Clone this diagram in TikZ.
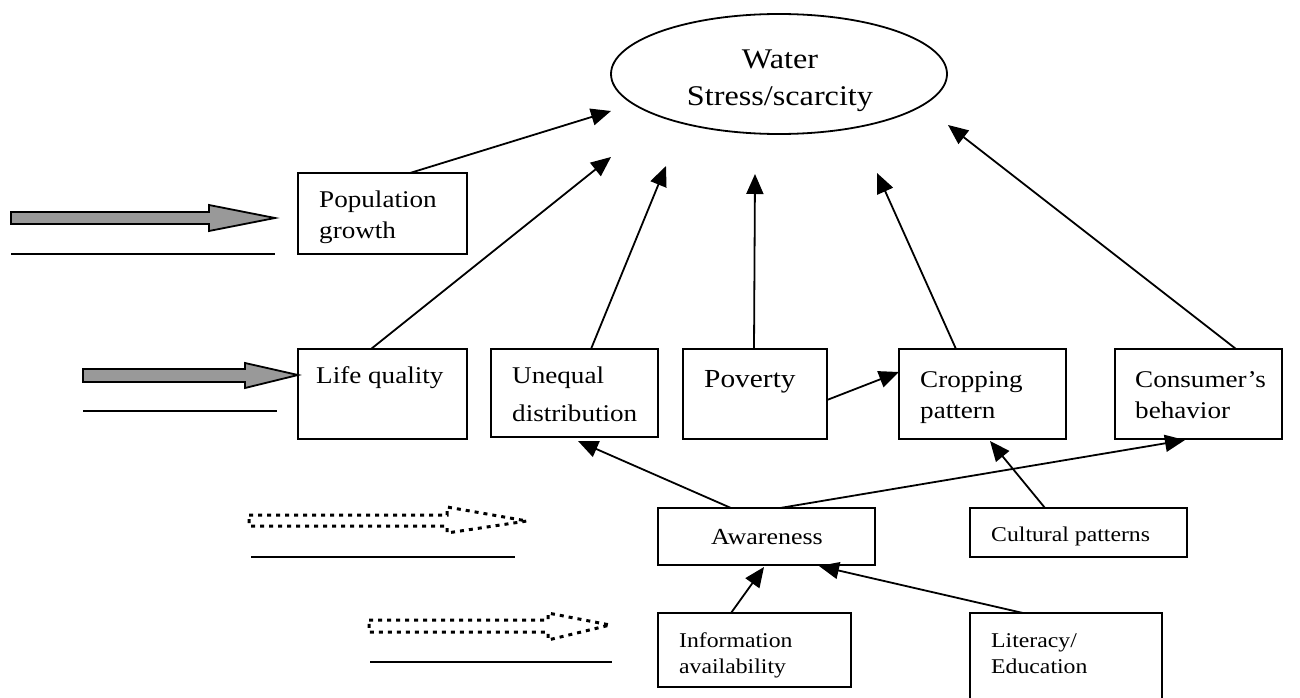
\documentclass[tikz,border=0pt]{standalone}
\usepackage{fontspec}
\setmainfont{Liberation Serif}[FakeStretch=1.13]
\usetikzlibrary{arrows.meta,shapes.geometric}
\definecolor{arrgray}{HTML}{999999}
\tikzset{
  box/.style={draw, line width=2pt, inner sep=0pt, outer sep=0pt},
  lbl/.style={anchor=base west, inner sep=0pt, align=left},
  big/.style={font=\fontsize{24}{31}\selectfont},
  mid/.style={font=\fontsize{23}{30}\selectfont},
  small/.style={font=\fontsize{21}{26}\selectfont},
  conn/.style={-{Triangle[length=20pt,width=17pt]}, line width=1.8pt},
  blockarrow/.style={draw, line width=1.8pt, fill=arrgray, line join=miter},
  dotarrow/.style={draw, line width=3pt, dash pattern=on 4pt off 5pt},
  rule/.style={line width=1.8pt}
}
\begin{document}
\begin{tikzpicture}[x=1pt,y=-1pt]
\useasboundingbox (0,0) rectangle (1300,698);

% central ellipse
\node[ellipse, draw, line width=1.8pt, minimum width=336pt, minimum height=120pt, inner sep=0pt] (ws) at (779,74) {};
\node[anchor=base, align=center, inner sep=0pt, font=\fontsize{28.5}{37}\selectfont] (wst) at (780,106) {Water\\Stress/scarcity};

% boxes
\node[box, minimum width=169pt, minimum height=81pt] (pg) at (382.5,213.5) {};
\node[lbl, big] (pgt) at (319,238) {Population\\growth};
\node[box, minimum width=169pt, minimum height=90pt] (lq) at (382.5,394) {};
\node[lbl, big] (lqt) at (316,383) {Life quality};
\node[box, minimum width=167pt, minimum height=88pt] (ud) at (574.5,393) {};
\node[lbl, font=\fontsize{24}{38}\selectfont] (udt) at (512,421) {Unequal\\distribution};
\node[box, minimum width=144pt, minimum height=90pt] (pv) at (755,394) {};
\node[lbl, font=\fontsize{26}{31}\selectfont] (pvt) at (704,387) {Poverty};
\node[box, minimum width=167pt, minimum height=90pt] (cp) at (982.5,394) {};
\node[lbl, big] (cpt) at (920,418) {Cropping\\pattern};
\node[box, minimum width=167pt, minimum height=90pt] (cb) at (1198.5,394) {};
\node[lbl, big] (cbt) at (1135,418) {Consumer’s\\behavior};
\node[box, minimum width=217pt, minimum height=57pt] (aw) at (766.5,536.5) {};
\node[anchor=base, inner sep=0pt, mid] (awt) at (767,544) {Awareness};
\node[box, minimum width=217pt, minimum height=49pt] (cu) at (1078.5,532.5) {};
\node[lbl, small] (cut) at (991,541) {Cultural patterns};
\node[box, minimum width=193pt, minimum height=74pt] (ia) at (754.5,650) {};
\node[lbl, small] (iat) at (679,673) {Information\\availability};
\node[box, minimum width=192pt, minimum height=97pt] (le) at (1066,661.5) {};
\node[lbl, small] (let) at (991,673) {Literacy/\\Education};

% arrow tips (free ends)
\coordinate (t1) at (611,111);
\coordinate (t2) at (611,157);
\coordinate (t3) at (666,166);
\coordinate (t4) at (755,174);
\coordinate (t5) at (877,173);
\coordinate (t6) at (948,125);
\coordinate (t7) at (899,372);
\coordinate (t8) at (578,441);
\coordinate (t9) at (1185,440);
\coordinate (t10) at (990,441);
\coordinate (t11) at (764,567);
\coordinate (t12) at (819,566);

% connectors
\draw[conn] ([xshift=112pt]pg.north west) -- (t1);
\draw[conn] ([xshift=73pt]lq.north west) -- (t2);
\draw[conn] ([xshift=100pt]ud.north west) -- (t3);
\draw[conn] ([xshift=71pt]pv.north west) -- (t4);
\draw[conn] ([xshift=57pt]cp.north west) -- (t5);
\draw[conn] ([xshift=121pt]cb.north west) -- (t6);
\draw[conn] ([yshift=-6pt]pv.east) -- (t7);
\draw[conn] ([xshift=73pt]aw.north west) -- (t8);
\draw[conn] ([xshift=122pt]aw.north west) -- (t9);
\draw[conn] ([xshift=75pt]cu.north west) -- (t10);
\draw[conn] ([xshift=73pt]ia.north west) -- (t11);
\draw[conn] ([xshift=53pt]le.north west) -- (t12);

% legend-like arrows on the left
\draw[blockarrow] (11,212) -- (209,212) -- (209,205) -- (275,218) -- (209,231) -- (209,224) -- (11,224) -- cycle;
\draw[rule] (11,254) -- (275,254);
\draw[blockarrow] (83,369) -- (245,369) -- (245,363) -- (298,375) -- (245,388) -- (245,382) -- (83,382) -- cycle;
\draw[rule] (83,411) -- (277,411);
\draw[dotarrow] (249,515) -- (447,515) -- (447,507) -- (527,521) -- (447,533) -- (447,526) -- (249,526) -- cycle;
\draw[rule] (251,557) -- (515,557);
\draw[dotarrow] (369,620) -- (548,620) -- (548,613) -- (610,625) -- (548,640) -- (548,632) -- (369,632) -- cycle;
\draw[rule] (370,662) -- (612,662);
\end{tikzpicture}
\end{document}
